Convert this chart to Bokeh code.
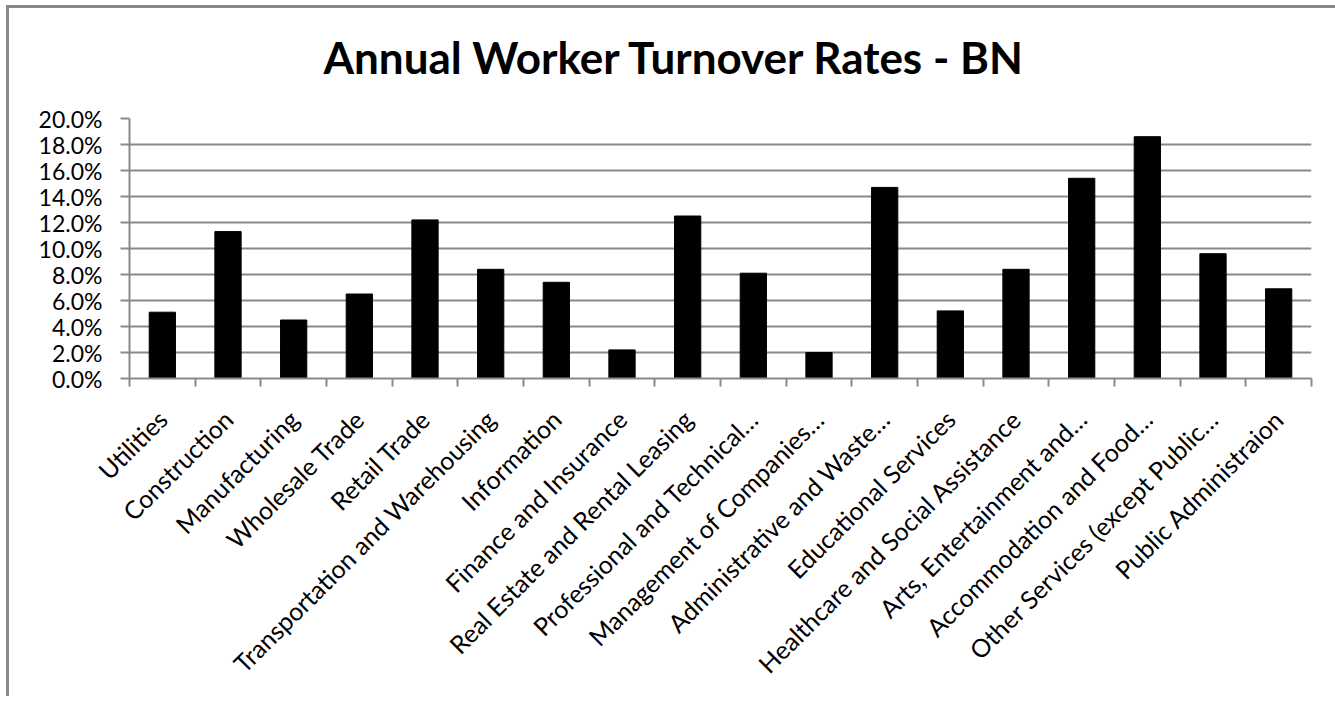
import math
from bokeh.plotting import figure
from bokeh.models import (FixedTicker, NumeralTickFormatter, Range1d, Title, ColumnDataSource)
from bokeh.embed import file_html
from bokeh.resources import INLINE

title_text = "Annual Worker Turnover Rates - BN"
categories = [
    "Utilities", "Construction", "Manufacturing", "Wholesale Trade", "Retail Trade",
    "Transportation and Warehousing", "Information", "Finance and Insurance",
    "Real Estate and Rental Leasing", "Professional and Technical…",
    "Management of Companies…", "Administrative and Waste…", "Educational Services",
    "Healthcare and Social Assistance", "Arts, Entertainment and…",
    "Accommodation and Food…", "Other Services (except Public…", "Public Administraion",
]
rates = [0.051, 0.113, 0.045, 0.065, 0.122, 0.084, 0.074, 0.022, 0.125, 0.081,
         0.020, 0.147, 0.052, 0.084, 0.154, 0.186, 0.096, 0.069]
y_ticks = [0.0, 0.02, 0.04, 0.06, 0.08, 0.10, 0.12, 0.14, 0.16, 0.18, 0.20]

FONT = "Lato"
GRAY = "#898989"

n = len(categories)
xs = list(range(n))
src = ColumnDataSource(dict(x=xs, top=rates))

p = figure(width=1329, height=700, output_backend="svg", toolbar_location=None,
           x_range=Range1d(-0.5, n - 0.5), y_range=Range1d(0, 0.20),
           min_border_left=123, min_border_right=24, min_border_top=10,
           min_border_bottom=318)
p.outline_line_color = None
p.background_fill_color = "white"
p.border_fill_color = None
p.styles = {"margin-left": "6px", "margin-top": "-4px",
            "box-shadow": ("inset 0 9px 0 0 white, inset 0 12px 0 0 #898989, "
                           "inset 3px 0 0 0 #898989")}

t = Title(text=title_text, align="left", offset=194, standoff=68, vertical_align="top",
          text_font=FONT, text_font_style="bold", text_font_size="44px",
          text_color="black")
p.add_layout(t, "above")

p.vbar(x="x", top="top", width=0.4, bottom=0, source=src,
       fill_color="black", line_color="black")

# y axis
p.yaxis.ticker = FixedTicker(ticks=y_ticks)
p.yaxis.formatter = NumeralTickFormatter(format="0.0%")
p.yaxis.major_label_text_font = FONT
p.yaxis.major_label_text_font_size = "23px"
p.yaxis.major_label_text_color = "black"
p.yaxis.axis_line_color = GRAY
p.yaxis.axis_line_width = 2
p.yaxis.major_tick_line_color = GRAY
p.yaxis.major_tick_line_width = 2
p.yaxis.major_tick_out = 9
p.yaxis.major_tick_in = 0
p.yaxis.minor_tick_line_color = None
p.yaxis.major_label_standoff = 18

# x axis
p.xaxis.ticker = FixedTicker(ticks=xs, minor_ticks=[i - 0.5 for i in range(n + 1)])
p.xaxis.major_label_overrides = {i: c for i, c in enumerate(categories)}
p.xaxis.major_label_orientation = math.pi / 4
p.xaxis.major_label_text_font = FONT
p.xaxis.major_label_text_font_size = "25px"
p.xaxis.major_label_text_color = "black"
p.xaxis.axis_line_color = GRAY
p.xaxis.axis_line_width = 2
p.xaxis.major_tick_line_color = None
p.xaxis.major_tick_out = 8
p.xaxis.major_tick_in = 0
p.xaxis.minor_tick_line_color = GRAY
p.xaxis.minor_tick_line_width = 2
p.xaxis.minor_tick_out = 8
p.xaxis.minor_tick_in = 0
p.xaxis.major_label_standoff = 28

p.xgrid.grid_line_color = None
p.ygrid.ticker = FixedTicker(ticks=y_ticks)
p.ygrid.grid_line_color = GRAY
p.ygrid.grid_line_width = 2

open("out.html", "w").write(file_html(p, INLINE))
